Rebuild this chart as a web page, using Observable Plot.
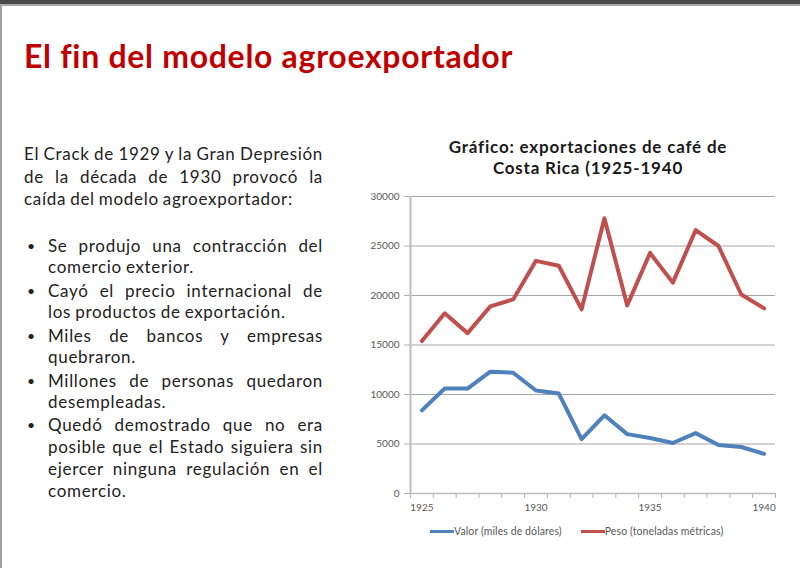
<!DOCTYPE html>
<html>
<head>
<meta charset="utf-8">
<script src="https://cdn.jsdelivr.net/npm/d3@7"></script>
<script src="https://cdn.jsdelivr.net/npm/@observablehq/plot@0.6"></script>
<style>
  html, body { margin: 0; padding: 0; }
  body { width: 800px; height: 568px; position: relative; overflow: hidden; background: #fff; font-family: Lato, "Open Sans", sans-serif; }
  #topbar { position: absolute; left: 0; top: 0; width: 800px; height: 4px; background: #4a4a4a; border-bottom: 2px solid #a8a8a8; }
  #leftbar { position: absolute; left: 0; top: 6px; width: 2px; height: 562px; background: #a0a0a0; }
  #title { position: absolute; left: 24px; top: 36px; font-size: 32px; font-weight: 700; color: #c00000; white-space: nowrap; letter-spacing: 0.7px; }
  #text { position: absolute; left: 24px; top: 143px; width: 299px; font-size: 17px; letter-spacing: 0.7px; word-spacing: -1px; color: #222; }
  .ln { line-height: 22.5px; height: 22.5px; text-align: justify; text-align-last: justify; white-space: nowrap; }
  .ln.last { text-align-last: left; }
  .blank { height: 22.5px; }
  .bul { position: relative; padding-left: 24px; margin-top: 1.6px; }
  .bul::before { content: "•"; position: absolute; left: 3px; top: 0; line-height: 21.7px; font-size: 14px; }
  .bul .ln { line-height: 21.7px; height: 21.7px; }
  #ctitle { position: absolute; left: 428px; width: 320px; top: 136px; text-align: center; font-size: 17px; letter-spacing: 0.8px; font-weight: 700; color: #1a1a1a; line-height: 21px; }
  #chart { position: absolute; left: 360px; top: 185px; }
  #legend { position: absolute; left: 430px; top: 525px; font-size: 10.5px; letter-spacing: 0.1px; color: #595959; white-space: nowrap; display: flex; align-items: center; }
  .sw { display: inline-block; width: 24px; height: 3px; vertical-align: middle; }
  .item { display: flex; align-items: center; }
</style>
</head>
<body>
<div id="topbar"></div>
<div id="leftbar"></div>
<div id="title">El fin del modelo agroexportador</div>
<div id="text"></div>
<div id="ctitle"></div>
<div id="chart"></div>
<div id="legend"></div>
<script>
// ---- data ----
const years = [1925, 1926, 1927, 1928, 1929, 1930, 1931, 1932, 1933, 1934, 1935, 1936, 1937, 1938, 1939, 1940];
const valor = [8400, 10600, 10600, 12300, 12200, 10400, 10100, 5500, 7900, 6000, 5600, 5100, 6100, 4900, 4700, 4000];
const peso  = [15400, 18200, 16200, 18900, 19600, 23500, 23000, 18600, 27800, 19000, 24300, 21300, 26600, 25000, 20100, 18700];
const yTicks = [0, 5000, 10000, 15000, 20000, 25000, 30000];
const xLabelYears = [1925, 1930, 1935, 1940];
const seriesNames = ["Valor (miles de dólares)", "Peso (toneladas métricas)"];
const seriesColors = ["#4f81bd", "#c0504d"];
const chartTitle = ["Gráfico: exportaciones de café de", "Costa Rica (1925-1940"];
const intro = ["El Crack de 1929 y la Gran Depresión", "de la década de 1930 provocó la", "caída del modelo agroexportador:"];
const bullets = [
  ["Se produjo una contracción del", "comercio exterior."],
  ["Cayó el precio internacional de", "los productos de exportación."],
  ["Miles de bancos y empresas", "quebraron."],
  ["Millones de personas quedaron", "desempleadas."],
  ["Quedó demostrado que no era", "posible que el Estado siguiera sin", "ejercer ninguna regulación en el", "comercio."]
];

// ---- text ----
const textEl = document.getElementById("text");
function lines(arr, parent) {
  arr.forEach((t, i) => {
    const d = document.createElement("div");
    d.className = "ln" + (i === arr.length - 1 ? " last" : "");
    d.textContent = t;
    parent.appendChild(d);
  });
}
lines(intro, textEl);
const blank = document.createElement("div"); blank.className = "blank"; textEl.appendChild(blank);
bullets.forEach(b => {
  const d = document.createElement("div"); d.className = "bul";
  lines(b, d);
  textEl.appendChild(d);
});
document.getElementById("ctitle").innerHTML = chartTitle.map(t => `<div>${t}</div>`).join("");

// ---- chart ----
const boundaries = years.map(y => y - 0.5).concat([years[years.length - 1] + 0.5]);
const chart = Plot.plot({
  width: 430,
  height: 335,
  marginLeft: 50,
  marginRight: 15,
  marginTop: 11,
  marginBottom: 27,
  x: {domain: [boundaries[0], boundaries[boundaries.length - 1]]},
  y: {domain: [0, 30000]},
  style: {fontFamily: "Lato, sans-serif", fontSize: "10px", color: "#595959", background: "transparent", overflow: "visible"},
  marks: [
    Plot.gridY(yTicks, {stroke: "#a6a6a6", strokeOpacity: 1}),
    Plot.axisY(yTicks, {tickSize: 6, tickPadding: 5, tickFormat: d => String(d), stroke: "#b0b0b0", label: null}),
    Plot.axisX(boundaries, {tickSize: 5, tickFormat: () => "", stroke: "#b0b0b0", label: null}),
    Plot.axisX(xLabelYears, {tickSize: 0, tickPadding: 10, tickFormat: d => String(d), label: null}),
    Plot.ruleX([boundaries[0]], {stroke: "#bdbdbd", strokeWidth: 2}),
    Plot.ruleY([0], {stroke: "#bdbdbd", strokeWidth: 1.5}),
    Plot.line(years, {x: d => d, y: (d, i) => peso[i], stroke: seriesColors[1], strokeWidth: 4}),
    Plot.line(years, {x: d => d, y: (d, i) => valor[i], stroke: seriesColors[0], strokeWidth: 4})
  ]
});
document.getElementById("chart").appendChild(chart);

// ---- legend ----
document.getElementById("legend").innerHTML = seriesNames.map((n, i) =>
  `<span class="item" style="margin-right:${i === 0 ? 19 : 0}px"><span class="sw" style="background:${seriesColors[i]}"></span><span>${n}</span></span>`
).join("");
</script>
</body>
</html>
